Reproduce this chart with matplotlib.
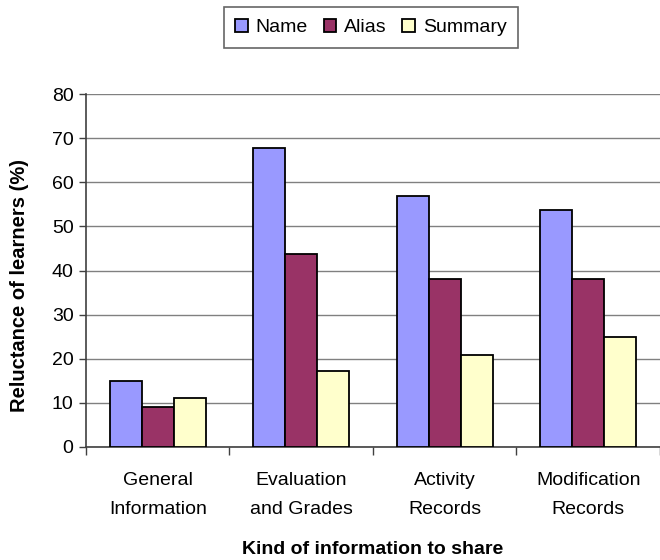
import numpy as np
import matplotlib
matplotlib.use('Agg')
import matplotlib.pyplot as plt

plt.rcParams['font.family'] = ['Liberation Sans', 'DejaVu Sans']

# Reluctance of learners to share each kind of information (%)
categories = ['General\nInformation', 'Evaluation\nand Grades', 'Activity\nRecords', 'Modification\nRecords']
series = ['Name', 'Alias', 'Summary']
name_vals = [15, 67.8, 57, 53.8]
alias_vals = [9, 43.8, 38, 38]
summary_vals = [11, 17.2, 20.8, 25]
colors = ['#9999FF', '#993366', '#FFFFCC']

fig = plt.figure(figsize=(6.6, 5.6), dpi=100)
ax = fig.add_axes([0.1303, 0.2018, 0.8697, 0.630])

x = np.arange(len(categories)) + 0.5
w = 0.224
for i, (lab, vals) in enumerate(zip(series, [name_vals, alias_vals, summary_vals])):
    ax.bar(x + (i - 1) * w, vals, w, color=colors[i], edgecolor='black',
           linewidth=1.3, label=lab, zorder=3)

ax.set_xlim(0, 4)
ax.set_ylim(0, 80)
ax.set_yticks(range(0, 81, 10))
ax.yaxis.grid(True, color='#808080', linewidth=1.0, zorder=0)
ax.set_axisbelow(True)

ax.set_xticks(range(0, 5))
ax.set_xticklabels([])
ax.set_xticks(x, minor=True)
ax.set_xticklabels(categories, minor=True, fontsize=14, linespacing=1.95)
ax.tick_params(axis='x', which='minor', length=0, pad=18)
ax.tick_params(axis='x', which='major', length=6, width=1, color='#404040')
ax.tick_params(axis='y', length=5, width=1, color='#404040', labelsize=14, pad=4)

for s in ['top', 'right']:
    ax.spines[s].set_visible(False)
for s in ['left', 'bottom']:
    ax.spines[s].set_color('#404040')
    ax.spines[s].set_linewidth(1.2)

ax.set_ylabel('Reluctance of learners (%)', fontsize=14.5, fontweight='bold')
ax.yaxis.set_label_coords(-0.099, 0.459)
ax.set_xlabel('Kind of information to share', fontsize=14, fontweight='bold')
ax.xaxis.set_label_coords(0.5, -0.267)

leg = fig.legend(loc='upper center', bbox_to_anchor=(0.562, 0.9875), ncol=3, fontsize=14,
                 frameon=True, fancybox=False, edgecolor='#404040', handlelength=0.65,
                 handleheight=0.65, handletextpad=0.4, columnspacing=0.8, borderpad=0.6,
                 borderaxespad=0)
leg.get_frame().set_linewidth(1.2)

fig.savefig('out.png', dpi=100)
